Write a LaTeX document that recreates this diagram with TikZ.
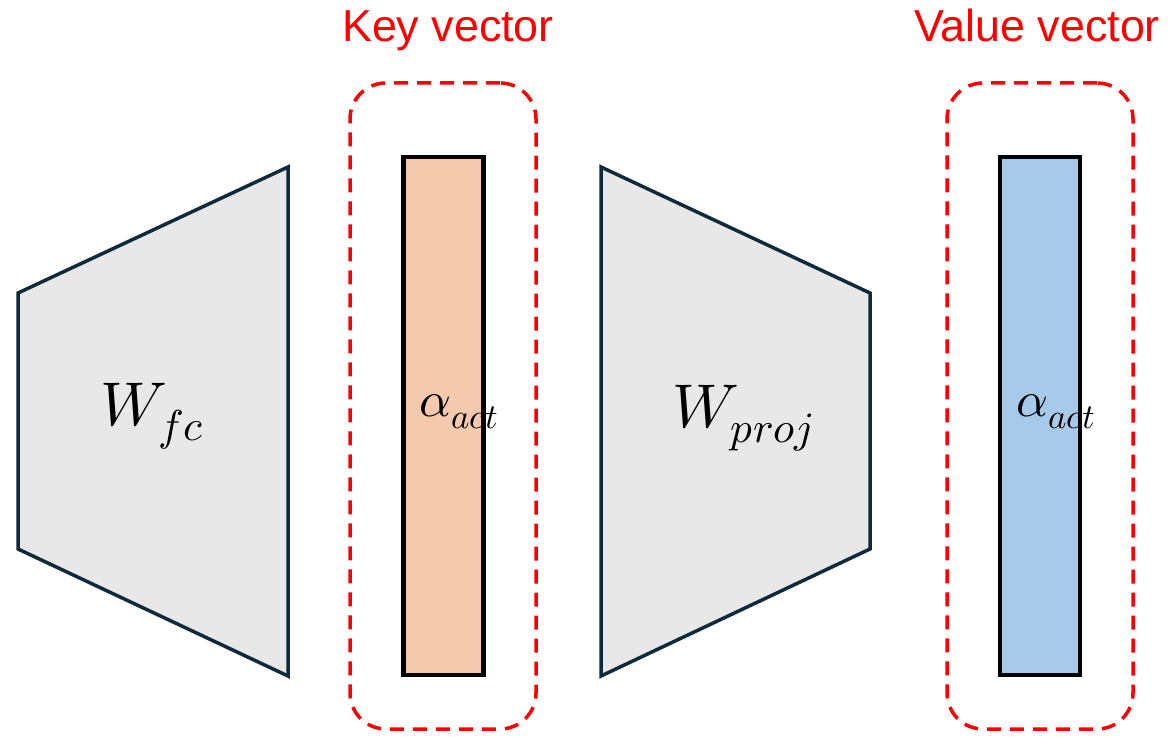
\documentclass[tikz,border=0pt]{standalone}
\usepackage{fontspec}
\usepackage{unicode-math}
\setmainfont{Liberation Sans}
\setmathfont{Latin Modern Math}
\begin{document}
\begin{tikzpicture}[x=1bp,y=-1bp,
  layer/.style={draw=layeredge,fill=layerfill,line width=3.5bp,line join=miter},
  vecbar/.style={draw=black,line width=4.5bp,minimum width=80bp,minimum height=518bp,inner sep=0pt},
  groupbox/.style={draw=red,line width=3.5bp,dash pattern=on 14bp off 9bp,rounded corners=36bp,minimum width=186bp,minimum height=646bp,inner sep=0pt},
  caption/.style={text=red,font=\fontsize{45}{50}\selectfont,inner sep=0pt,anchor=base},
  mathlbl/.style={font=\fontsize{62}{70}\selectfont,inner sep=0pt},
  vlbl/.style={font=\fontsize{50}{56}\selectfont,inner sep=0pt}]
\definecolor{layeredge}{HTML}{0E2A3B}
\definecolor{layerfill}{HTML}{E8E8E8}
\definecolor{keyfill}{HTML}{F5C9AE}
\definecolor{valfill}{HTML}{A7C9EA}
\useasboundingbox (0,0) rectangle (1170,737);

% weight layers
\draw[layer] (18,293) -- (288,167) -- (288,676) -- (18,549) -- cycle;
\draw[layer] (601,167) -- (870,293) -- (870,549) -- (601,676) -- cycle;
\node[mathlbl] (wfc) at (152,416) {$W_{fc}$};
\node[mathlbl] (wproj) at (743,418) {$W_{proj}$};

% key / value vectors
\node[vecbar,fill=keyfill] (key) at (443.5,416) {};
\node[vecbar,fill=valfill] (val) at (1040,416) {};
\node[vlbl] (ka) at (459,412) {$\alpha_{act}$};
\node[vlbl] (va) at (1056,412) {$\alpha_{act}$};

% dashed groupings
\node[groupbox] (keybox) at (443,406) {};
\node[groupbox] (valbox) at (1040,406) {};
\node[caption] (keycap) at (448,42) {Key vector};
\node[caption] (valcap) at (1037,42) {Value vector};
\end{tikzpicture}
\end{document}
